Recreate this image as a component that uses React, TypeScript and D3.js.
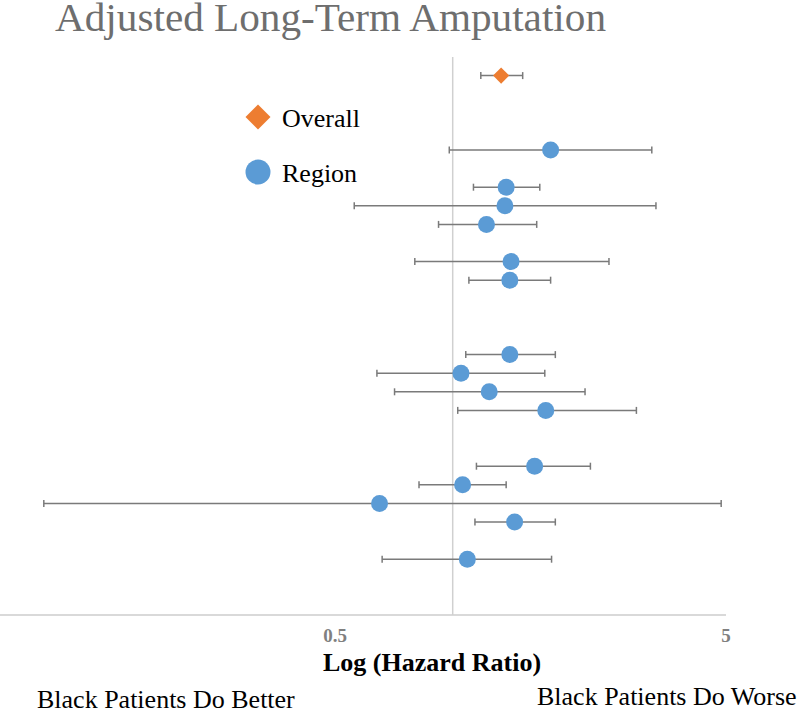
import React from 'react';
import * as d3 from 'd3';

// overall estimate (hazard ratio with 95% CI) and its row position
const overallRow = [29];
const overallHR = [1.33];
const overallLow = [1.18];
const overallHigh = [1.51];

// regional estimates, top to bottom
const regionRows = [25, 23, 22, 21, 19, 18, 14, 13, 12, 11, 8, 7, 6, 5, 3];
const regionHR = [1.78, 1.37, 1.36, 1.22, 1.41, 1.4, 1.4, 1.05, 1.24, 1.73, 1.62, 1.06, 0.65, 1.44, 1.09];
const regionLow = [0.98, 1.13, 0.56, 0.92, 0.8, 1.1, 1.08, 0.64, 0.71, 1.03, 1.15, 0.82, 0.09, 1.14, 0.66];
const regionHigh = [3.23, 1.67, 3.31, 1.64, 2.51, 1.78, 1.83, 1.72, 2.18, 2.95, 2.25, 1.37, 4.86, 1.83, 1.79];

const xTicks = [0.5, 5];
const legendLabels = ['Overall', 'Region'];

const W = 800;
const H = 713;
const BLUE = '#5B9BD5';
const ORANGE = '#ED7D31';
const SERIF = 'Liberation Serif, Times New Roman, serif';

export default function App() {
  const x = d3.scaleLog().domain([0.05, 5]).range([-56, 726]);
  const y = d3.scaleLinear().domain([0, 30]).range([615, 57]);

  const diamond = d3.symbol(d3.symbolSquare, 130)();
  const legendDiamond = d3.symbol(d3.symbolSquare, 312)();

  const regions = regionRows.map((r, i) => ({
    row: r, hr: regionHR[i], lo: regionLow[i], hi: regionHigh[i],
  }));
  const overall = overallRow.map((r, i) => ({
    row: r, hr: overallHR[i], lo: overallLow[i], hi: overallHigh[i],
  }));

  const errorBar = (d, key) => (
    <g key={key} stroke="#7a7a7a" strokeWidth={1.5}>
      <line x1={x(d.lo)} x2={x(d.hi)} y1={y(d.row)} y2={y(d.row)} />
      <line x1={x(d.lo)} x2={x(d.lo)} y1={y(d.row) - 3.5} y2={y(d.row) + 3.5} />
      <line x1={x(d.hi)} x2={x(d.hi)} y1={y(d.row) - 3.5} y2={y(d.row) + 3.5} />
    </g>
  );

  return (
    <svg width={W} height={H} style={{ position: 'absolute', left: 0, top: 0, background: '#fff', fontFamily: SERIF }}>
      <text x={55} y={31} fontSize={41} fill="#6e6e6e" textLength={551} lengthAdjust="spacingAndGlyphs">
        Adjusted Long-Term Amputation
      </text>

      {/* axis line and reference line at HR = 1 */}
      <line x1={0} x2={x(5)} y1={y(0)} y2={y(0)} stroke="#d9d9d9" strokeWidth={2} />
      <line x1={x(1)} x2={x(1)} y1={y(30)} y2={y(0)} stroke="#d0d0d0" strokeWidth={1.5} />

      {xTicks.map(t => (
        <text key={t} x={x(t)} y={642} textAnchor="middle"
          fontSize={19} fontWeight="bold" fill="#808080">{t}</text>
      ))}

      <text x={432} y={671} textAnchor="middle" fontSize={26}
        fontWeight="bold" fill="#000">Log (Hazard Ratio)</text>

      {regions.map((d, i) => errorBar(d, 'r' + i))}
      {overall.map((d, i) => errorBar(d, 'o' + i))}

      {regions.map((d, i) => (
        <circle key={i} cx={x(d.hr)} cy={y(d.row)} r={8.5} fill={BLUE} />
      ))}
      {overall.map((d, i) => (
        <path key={i} d={diamond} fill={ORANGE}
          transform={`translate(${x(d.hr)},${y(d.row)}) rotate(45)`} />
      ))}

      {/* legend */}
      <path d={legendDiamond} fill={ORANGE} transform="translate(258,117) rotate(45)" />
      <circle cx={258} cy={172} r={12.5} fill={BLUE} />
      {legendLabels.map((l, i) => (
        <text key={l} x={282} y={127 + i * 55} fontSize={26} fill="#000">{l}</text>
      ))}

      <text x={37} y={708} fontSize={26} fill="#000">Black Patients Do Better</text>
      <text x={537} y={705} fontSize={26} fill="#000">Black Patients Do Worse</text>
    </svg>
  );
}
